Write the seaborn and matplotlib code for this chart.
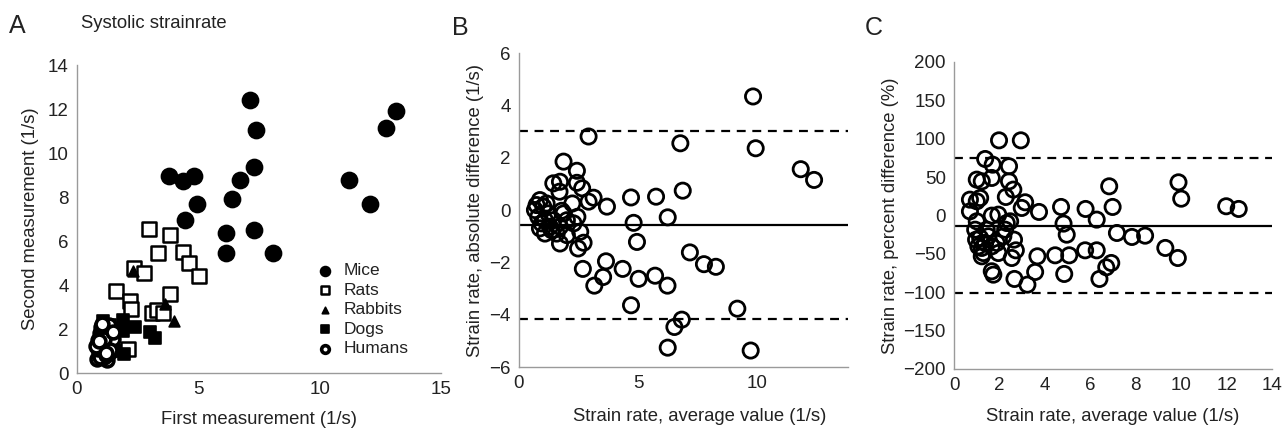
import pandas as pd
import matplotlib.pyplot as plt
import seaborn as sns
import matplotlib as mpl

# panel A: first vs second measurement, per species
mice_x = [7.14, 7.39, 13.13, 12.72, 3.78, 4.35, 4.81, 4.95, 4.46, 6.73, 7.28, 6.37, 6.14, 7.31, 6.14, 8.08, 11.19, 12.06]
mice_y = [12.39, 11.06, 11.91, 11.12, 8.94, 8.74, 8.94, 7.70, 6.97, 8.77, 9.36, 7.92, 6.36, 6.48, 5.45, 5.45, 8.76, 7.70]
rats_x = [2.98, 3.82, 3.32, 4.38, 4.60, 5.03, 2.34, 2.75, 1.62, 2.17, 2.24, 3.82, 3.09, 3.30, 3.54, 2.10]
rats_y = [6.55, 6.29, 5.45, 5.50, 5.00, 4.39, 4.76, 4.55, 3.74, 3.26, 2.91, 3.59, 2.73, 2.85, 2.73, 1.09]
rabbits_x = [2.29, 3.64, 4.01]
rabbits_y = [4.62, 3.15, 2.38]
dogs_x = [1.07, 1.35, 1.60, 1.90, 1.90, 2.40, 3.02, 3.23, 1.92, 1.30, 1.55]
dogs_y = [2.35, 2.20, 2.00, 2.42, 1.89, 2.09, 1.86, 1.59, 0.85, 1.70, 1.00]
humans_x = [0.82, 1.24, 0.90, 1.00, 1.10, 0.95, 1.15, 1.30, 1.05, 0.85, 1.20, 1.40, 1.00, 1.10, 0.90, 1.25,
            1.35, 1.05, 0.95, 1.15, 1.45, 1.20, 0.88, 1.30, 1.50, 1.02, 0.80, 1.12, 1.38, 0.92, 1.18, 1.48]
humans_y = [0.64, 0.60, 1.00, 1.30, 1.60, 1.80, 2.00, 1.40, 0.85, 1.50, 1.10, 1.75, 2.10, 0.75, 1.20, 1.90,
            0.95, 1.65, 0.72, 1.35, 1.25, 0.80, 1.10, 2.20, 1.55, 2.25, 1.25, 1.55, 1.05, 1.45, 0.90, 1.85]

# panel B: Bland-Altman, absolute difference
b_avg = [9.82, 9.93, 2.92, 6.77, 11.82, 12.38, 6.87, 4.70, 5.75, 3.69, 6.24, 4.81, 4.95, 7.17, 7.76, 8.26,
         3.65, 4.35, 3.53, 3.16, 2.68, 5.02, 5.71, 6.23, 4.70, 9.16, 6.83, 6.52, 6.24, 9.72, 1.87, 2.43,
         2.43, 2.65, 3.13, 2.92, 1.44, 1.72, 1.70, 2.24, 2.45, 2.57, 2.71, 2.48, 1.72, 2.01, 1.79, 2.29,
         0.67, 0.88, 1.02, 0.81, 1.09, 1.30, 1.58, 1.23, 0.95, 1.44, 1.16, 0.74, 1.37, 1.72, 2.01, 1.87,
         0.88, 1.09]
b_diff = [4.34, 2.36, 2.81, 2.55, 1.56, 1.15, 0.74, 0.48, 0.51, 0.13, -0.28, -0.49, -1.22, -1.62, -2.07, -2.17,
          -1.96, -2.25, -2.56, -2.89, -2.25, -2.63, -2.51, -2.89, -3.64, -3.77, -4.19, -4.47, -5.26, -5.37, 1.85, 1.50,
          1.04, 0.83, 0.47, 0.32, 1.02, 1.08, 0.70, 0.25, -0.26, -0.83, -1.25, -1.47, -1.28, -0.96, -0.03, -0.51,
          0.00, 0.38, 0.13, -0.26, -0.39, -0.64, -0.90, -0.13, -0.51, -0.39, 0.25, 0.19, -0.77, -0.64, -0.39, -0.13,
          -0.70, -0.90]
b_mean = -0.57
b_limits = [3.03, -4.16]

# panel C: Bland-Altman, percent difference
c_avg = [1.98, 2.94, 1.37, 1.70, 1.66, 2.42, 1.00, 1.22, 2.42, 2.61, 9.88, 10.00, 6.83, 6.98, 11.98, 12.53,
         2.28, 3.13, 2.98, 3.74, 4.71, 5.79, 6.28, 4.82, 4.96, 7.17, 7.83, 8.41, 9.30, 9.85, 5.77, 6.28,
         4.45, 5.07, 3.67, 3.57, 4.85, 6.92, 6.70, 6.40, 2.66, 3.23, 1.66, 1.73, 2.54, 2.72, 2.64, 2.47,
         2.25, 1.95, 1.66, 0.70, 1.00, 1.15, 0.70, 1.00, 0.93, 1.15, 0.97, 1.22, 1.37, 1.22, 1.51, 1.66,
         1.88, 1.95, 1.44, 2.17, 2.32, 1.29, 1.07]
c_pct = [97.9, 97.9, 73.6, 66.2, 48.9, 64.1, 46.7, 44.5, 44.5, 33.7, 43.2, 21.9, 38.0, 11.1, 12.0, 8.5,
         24.1, 17.2, 9.8, 4.6, 11.1, 8.5, -5.4, -10.6, -25.0, -22.8, -28.0, -26.3, -42.3, -55.4, -45.4, -45.4,
         -51.9, -51.9, -53.2, -73.6, -76.2, -61.9, -67.5, -82.7, -82.7, -90.1, -72.7, -77.1, -55.4, -45.4, -31.5, -7.6,
         -18.5, 1.1, -0.2, 20.6, 18.5, 22.8, 5.4, -7.6, -18.5, -29.3, -31.5, -42.3, -35.8, -53.2, -27.1, -40.2,
         -35.8, -48.9, -18.5, -27.1, -9.8, -48.9, -40.2]
c_mean = -13.5
c_limits = [74.5, -100.5]

sns.set_style('white')
mpl.rcParams.update({
    'font.family': ['Liberation Sans', 'DejaVu Sans'],
    'font.size': 13,
    'text.color': '#222222',
    'axes.labelcolor': '#222222',
    'xtick.color': '#222222',
    'ytick.color': '#222222',
})

fig = plt.figure(figsize=(12.83, 4.28), dpi=100)
axA = fig.add_axes([0.060, 0.1285, 0.2837, 0.7196])
axB = fig.add_axes([0.4045, 0.1425, 0.2564, 0.7336])
axC = fig.add_axes([0.7436, 0.1379, 0.2479, 0.7173])

# panel A scatter
groups = [
    ('Mice', mice_x, mice_y, 'o', 'black', 125, 1.6),
    ('Rats', rats_x, rats_y, 's', 'white', 100, 1.8),
    ('Rabbits', rabbits_x, rabbits_y, '^', 'black', 60, 1.2),
    ('Dogs', dogs_x, dogs_y, 's', 'black', 80, 1.2),
    ('Humans', humans_x, humans_y, 'o', 'white', 85, 2.6),
]
for name, xs, ys, mk, fc, sz, lw in groups:
    sns.scatterplot(x=xs, y=ys, ax=axA, marker=mk, s=sz, color=fc,
                    edgecolor='black', linewidth=lw, label=name, zorder=3)

axA.set_xlim(0, 15)
axA.set_ylim(0, 14)
axA.set_xticks([0, 5, 10, 15])
axA.set_yticks(range(0, 15, 2))
axA.set_xlabel('First measurement (1/s)', fontsize=13.3, labelpad=9)
axA.set_ylabel('Second measurement (1/s)', fontsize=13.3, labelpad=6)
axA.legend(loc='lower right', bbox_to_anchor=(0.94, 0.02), frameon=False,
           markerscale=0.6, fontsize=12.5, handletextpad=0.05, labelspacing=0.25,
           borderaxespad=0.2)

# panel B
sns.scatterplot(x=b_avg, y=b_diff, ax=axB, marker='o', s=120, facecolor='none',
                edgecolor='black', linewidth=2.0, zorder=3)
axB.axhline(b_mean, color='black', lw=1.6, zorder=2)
for lim in b_limits:
    axB.axhline(lim, color='black', lw=1.6, ls=(0, (4, 3)), zorder=2)
axB.set_xlim(0, 13.8)
axB.set_ylim(-6, 6)
axB.set_xticks([0, 5, 10])
axB.set_yticks(range(-6, 7, 2))
axB.set_xlabel('Strain rate, average value (1/s)', fontsize=13.3)
axB.xaxis.set_label_coords(0.55, -0.13)
axB.set_ylabel('Strain rate, absolute difference (1/s)', fontsize=13.3, labelpad=4)

# panel C
sns.scatterplot(x=c_avg, y=c_pct, ax=axC, marker='o', s=120, facecolor='none',
                edgecolor='black', linewidth=2.0, zorder=3)
axC.axhline(c_mean, color='black', lw=1.6, zorder=2)
for lim in c_limits:
    axC.axhline(lim, color='black', lw=1.6, ls=(0, (4, 3)), zorder=2)
axC.set_xlim(0, 14)
axC.set_ylim(-200, 200)
axC.set_xticks(range(0, 15, 2))
axC.set_yticks(range(-200, 201, 50))
axC.set_xlabel('Strain rate, average value (1/s)', fontsize=13.3, labelpad=10)
axC.set_ylabel('Strain rate, percent difference (%)', fontsize=13.3, labelpad=3)

for ax in (axA, axB, axC):
    ax.set_facecolor('white')
    for side in ('top', 'right'):
        ax.spines[side].set_visible(False)
    for side in ('left', 'bottom'):
        ax.spines[side].set_color('#9a9a9a')
        ax.spines[side].set_linewidth(1.0)
    ax.tick_params(axis='y', direction='out', length=4, width=1, color='#9a9a9a', labelsize=13.5, pad=2)
    ax.tick_params(axis='x', direction='in', length=4, width=1, color='#9a9a9a', labelsize=13.5, pad=6)

fig.text(0.007, 0.94, 'A', fontsize=18, va='center')
fig.text(0.063, 0.945, 'Systolic strainrate', fontsize=13.3, va='center')
fig.text(0.352, 0.935, 'B', fontsize=18, va='center')
fig.text(0.674, 0.935, 'C', fontsize=18, va='center')

fig.savefig('out.png', dpi=100, facecolor='white')
